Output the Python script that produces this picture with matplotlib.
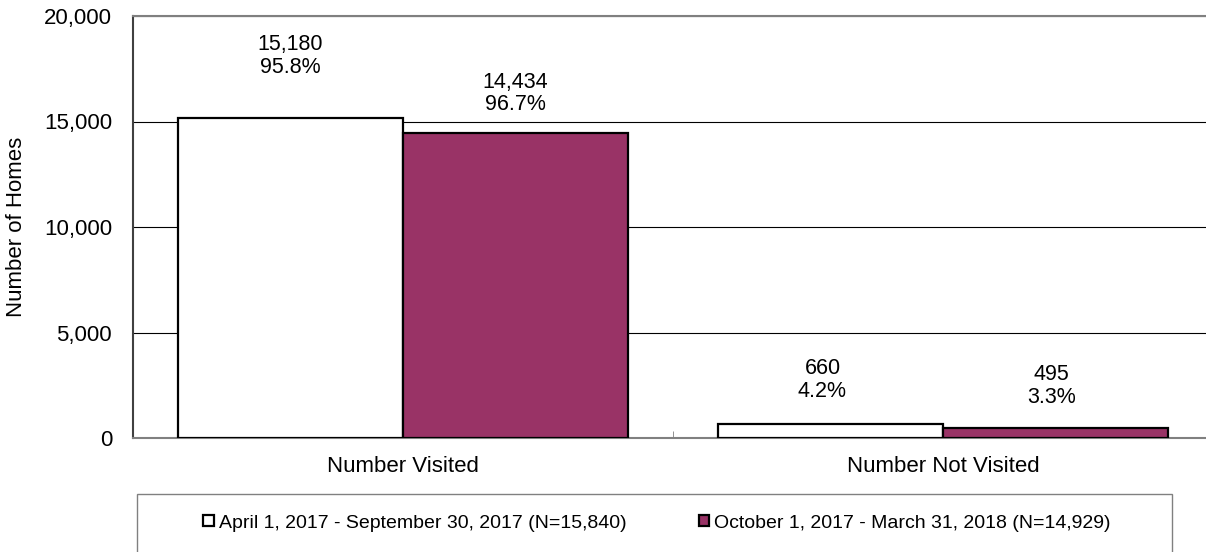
import matplotlib
matplotlib.use('Agg')
import matplotlib.pyplot as plt
import numpy as np
from matplotlib.patches import Rectangle

# --- dados ---
categories = ['Number Visited', 'Number Not Visited']
series_names = ['April 1, 2017 - September 30, 2017 (N=15,840)',
                'October 1, 2017 - March 31, 2018 (N=14,929)']
period1 = [15180, 660]
period2 = [14434, 495]
pct1 = ['95.8%', '4.2%']
pct2 = ['96.7%', '3.3%']

colors = ['white', '#993366']
yticks = [0, 5000, 10000, 15000, 20000]

# deslocamentos dos rótulos (pixels) em relação ao topo de cada barra
label_offsets1 = [(0, 40), (-8, 22)]
label_offsets2 = [(0, 18), (-4, 20)]

plt.rcParams['font.family'] = ['Liberation Sans', 'DejaVu Sans']

fig = plt.figure(figsize=(12.06, 5.52), dpi=100)
ax = fig.add_axes([133 / 1206, 1 - 438 / 552, 1 - 133 / 1206, (438 - 16) / 552])

x = np.arange(len(categories))
w = 225 / 540

ax.set_axisbelow(True)
ax.yaxis.grid(True, color='black', linewidth=0.8)

b1 = ax.bar(x - w / 2, period1, width=w, color=colors[0], edgecolor='black',
            linewidth=1.6, label=series_names[0], zorder=3)
b2 = ax.bar(x + w / 2, period2, width=w, color=colors[1], edgecolor='black',
            linewidth=1.6, label=series_names[1], zorder=3)

for bars, vals, pcts, offs in [(b1, period1, pct1, label_offsets1),
                               (b2, period2, pct2, label_offsets2)]:
    for bar, v, p, (dx, dy) in zip(bars, vals, pcts, offs):
        ax.annotate(f'{v:,}\n{p}', (bar.get_x() + bar.get_width() / 2, bar.get_height()),
                    xytext=(dx, dy), textcoords='offset pixels', ha='center', va='bottom',
                    fontsize=15.5, linespacing=1.1, zorder=4)

ax.set_xlim(-0.5, -0.5 + 1073 / 540)
ax.set_ylim(0, 20000)
ax.set_yticks(yticks)
ax.set_yticklabels([f'{t:,}' for t in yticks], fontsize=16)
ax.set_xticks(x)
ax.set_xticklabels(categories, fontsize=16)
ax.set_xticks([0.5], minor=True)
ax.tick_params(axis='both', which='major', length=0)
ax.tick_params(axis='y', pad=15)
ax.tick_params(axis='x', pad=13)
ax.tick_params(axis='x', which='minor', direction='in', length=5, color='#808080')

ax.set_ylabel('Number of Homes', fontsize=16, labelpad=12)

ax.spines['right'].set_visible(False)
ax.spines['top'].set_color('#808080')
ax.spines['top'].set_linewidth(1.5)
ax.spines['left'].set_color('#404040')
ax.spines['left'].set_linewidth(1.5)
ax.spines['bottom'].set_color('#808080')
ax.spines['bottom'].set_linewidth(1.5)

# caixa da legenda
fig.patches.append(Rectangle((137 / 1206, -10 / 552), (1172 - 137) / 1206, (552 - 494 + 10) / 552,
                             transform=fig.transFigure, facecolor='none',
                             edgecolor='#808080', linewidth=1.0))

leg = fig.legend(handles=[b1, b2], loc='center', bbox_to_anchor=(657 / 1206, 1 - 523 / 552),
                 ncol=2, frameon=False, handlelength=0.55, handleheight=0.55,
                 handletextpad=0.25, columnspacing=3.7, borderpad=0, borderaxespad=0,
                 prop={'size': 14})

fig.savefig('out.png', dpi=100)
